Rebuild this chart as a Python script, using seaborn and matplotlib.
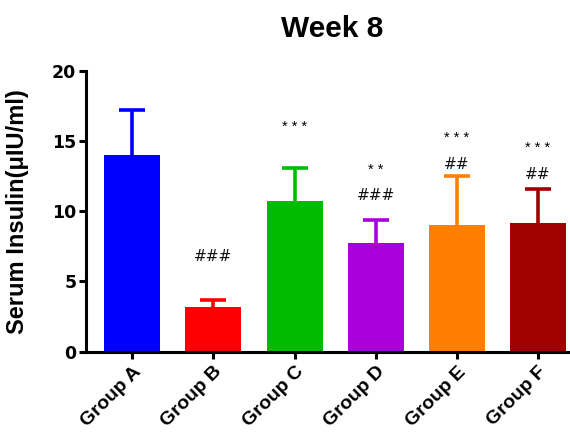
import matplotlib
matplotlib.use("Agg")
import matplotlib.pyplot as plt
import seaborn as sns
import pandas as pd
import numpy as np

groups = ["Group A", "Group B", "Group C", "Group D", "Group E", "Group F"]
means = [14.0, 3.2, 10.7, 7.7, 9.0, 9.15]
sd = [3.2, 0.5, 2.4, 1.7, 3.5, 2.45]
colors = ["#0000FF", "#FF0000", "#00BB00", "#AA00DD", "#FF8000", "#A00000"]
stars = ["", "", "* * *", "* *", "* * *", "* * *"]
star_y = [0, 0, 16.0, 12.9, 15.2, 14.5]
hashes = ["", "###", "", "###", "##", "##"]
hash_y = [0, 6.8, 0, 11.1, 13.3, 12.6]

sns.set_style("ticks")
plt.rcParams["font.family"] = ["Liberation Sans", "DejaVu Sans"]
plt.rcParams["font.weight"] = "bold"
plt.rcParams["text.color"] = "black"
plt.rcParams["axes.labelcolor"] = "black"

df = pd.DataFrame({"group": groups, "mean": means})

fig = plt.figure(figsize=(5.7, 4.34), dpi=100)
ax = fig.add_axes([0.151, 0.19, 0.847, 0.647])

sns.barplot(data=df, x="group", y="mean", hue="group", palette=colors,
            dodge=False, legend=False, width=0.69, ax=ax, errorbar=None,
            linewidth=0, saturation=1)

xs = np.arange(len(groups))
tops = np.array(means) + np.array(sd)
for i in range(len(groups)):
    ax.errorbar(xs[i], means[i], yerr=[[0], [sd[i]]], fmt="none",
                ecolor=colors[i], elinewidth=2.6, capsize=0)
    ax.plot(xs[i], tops[i], marker="_", markersize=19, mew=2.6,
            color=colors[i], linestyle="none")
    if stars[i]:
        ax.text(xs[i], star_y[i], stars[i], ha="center", va="center",
                fontsize=10.5, fontweight="normal", color="black",
                family="Liberation Sans")
    if hashes[i]:
        ax.text(xs[i], hash_y[i], hashes[i], ha="center", va="center",
                fontsize=11, fontweight="normal", color="#111111",
                family="DejaVu Sans")

ax.set_xlim(-0.57, 5.38)
ax.set_ylim(0, 20)
ax.set_yticks([0, 5, 10, 15, 20])
ax.set_xlabel("")
ax.set_ylabel("Serum Insulin(μIU/ml)", fontsize=17, fontweight="bold")
ax.yaxis.set_label_coords(-0.118, 0.5)
ax.set_title("Week 8", fontsize=21.5, fontweight="bold", pad=24, x=0.51)

for s in ["top", "right"]:
    ax.spines[s].set_visible(False)
for s in ["left", "bottom"]:
    ax.spines[s].set_linewidth(2.2)
    ax.spines[s].set_color("black")
ax.tick_params(axis="both", width=2.2, length=5, direction="out",
               colors="black")
ax.tick_params(axis="y", pad=2)
for lab in ax.get_yticklabels():
    lab.set_fontfamily("DejaVu Sans")
    lab.set_fontweight("bold")
    lab.set_fontsize(12.5)
for lab in ax.get_xticklabels():
    lab.set_fontweight("bold")
    lab.set_fontsize(14)
    lab.set_rotation(45)
    lab.set_ha("right")
    lab.set_rotation_mode("anchor")

fig.savefig("out.png", dpi=100)
